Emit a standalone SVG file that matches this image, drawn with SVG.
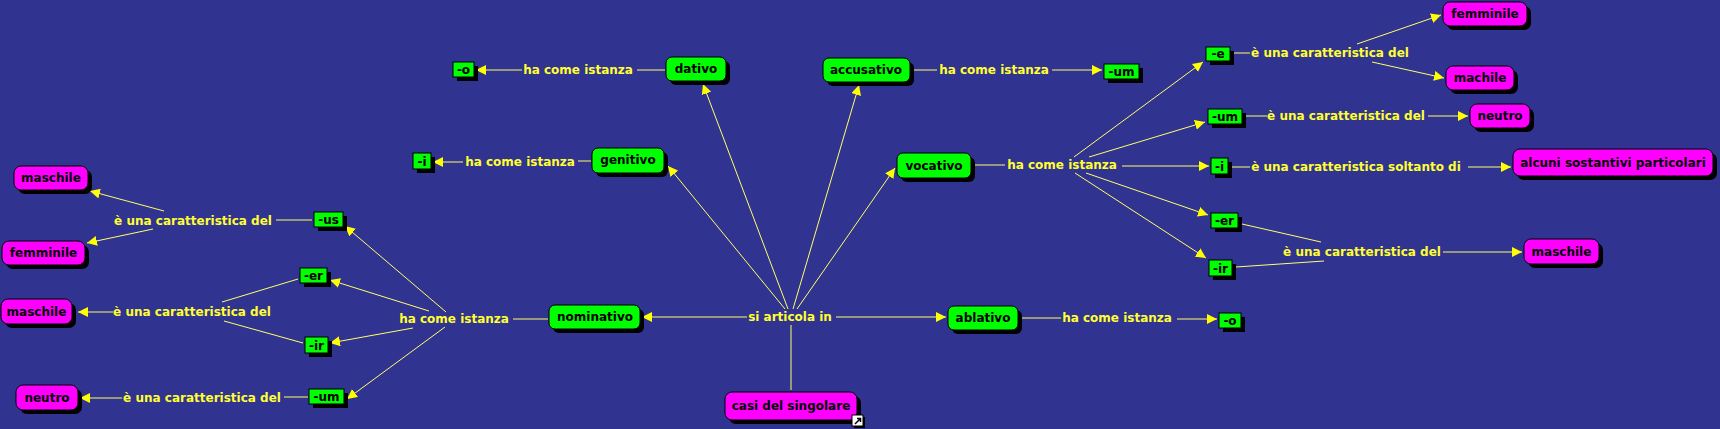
<svg xmlns="http://www.w3.org/2000/svg" width="1720" height="429" viewBox="0 0 1720 429">
<style>
.bg{fill:#313391}
.sh{fill:#000}
.g{fill:#00ff00;stroke:#000;stroke-width:1}
.m{fill:#ff00ff;stroke:#000;stroke-width:1}
.t{font-family:"DejaVu Sans",Verdana,sans-serif;font-weight:bold;font-size:12px;fill:#000;text-anchor:middle}
.lb{font-family:"DejaVu Sans",Verdana,sans-serif;font-weight:bold;font-size:12px;fill:#ffff33;text-anchor:middle}
.c line{stroke:#ffff66;stroke-width:1}
.a{marker-end:url(#ah)}
</style>
<defs>
<marker id="ah" markerUnits="userSpaceOnUse" markerWidth="11" markerHeight="10" refX="10" refY="5" orient="auto">
<path d="M0,0 L10,5 L0,10 z" fill="#ffff00"/>
</marker>
</defs>
<rect class="bg" x="0" y="0" width="1720" height="429"/>

<g id="connectors" class="c">
<!-- si articola in -->
<line x1="791" y1="390" x2="791" y2="325"/>
<line class="a" x1="747" y1="317" x2="642" y2="317"/>
<line class="a" x1="836" y1="317" x2="946" y2="317"/>
<line class="a" x1="785" y1="309" x2="668" y2="166"/>
<line class="a" x1="788" y1="309" x2="703" y2="84"/>
<line class="a" x1="793" y1="309" x2="859" y2="85"/>
<line class="a" x1="797" y1="309" x2="895" y2="168"/>
<!-- nominativo -->
<line x1="548" y1="319" x2="513" y2="319"/>
<line class="a" x1="446" y1="312" x2="345" y2="226"/>
<line class="a" x1="429" y1="311" x2="330" y2="280"/>
<line class="a" x1="413" y1="328" x2="330" y2="343"/>
<line class="a" x1="445" y1="327" x2="347" y2="399"/>
<!-- -us -->
<line x1="312" y1="220" x2="276" y2="220"/>
<line class="a" x1="164" y1="211" x2="90" y2="191"/>
<line class="a" x1="153" y1="229" x2="87" y2="243"/>
<!-- -er/-ir left -->
<line x1="298" y1="279" x2="222" y2="302"/>
<line x1="303" y1="343" x2="224" y2="321"/>
<line class="a" x1="113" y1="312" x2="78" y2="312"/>
<!-- -um left -->
<line x1="308" y1="397" x2="284" y2="397"/>
<line class="a" x1="122" y1="398" x2="80" y2="398"/>
<!-- genitivo -->
<line x1="591" y1="161" x2="578" y2="161"/>
<line class="a" x1="463" y1="162" x2="433" y2="162"/>
<!-- dativo -->
<line x1="665" y1="70" x2="637" y2="70"/>
<line class="a" x1="522" y1="70" x2="476" y2="70"/>
<!-- accusativo -->
<line x1="911" y1="70" x2="937" y2="70"/>
<line class="a" x1="1052" y1="70" x2="1102" y2="70"/>
<!-- vocativo -->
<line x1="972" y1="165" x2="1005" y2="165"/>
<line class="a" x1="1074" y1="157" x2="1203" y2="62"/>
<line class="a" x1="1089" y1="157" x2="1205" y2="122"/>
<line class="a" x1="1122" y1="166" x2="1209" y2="166"/>
<line class="a" x1="1086" y1="173" x2="1208" y2="215"/>
<line class="a" x1="1075" y1="173" x2="1206" y2="258"/>
<!-- -e -->
<line x1="1232" y1="53" x2="1250" y2="53"/>
<line class="a" x1="1357" y1="44" x2="1441" y2="15"/>
<line class="a" x1="1372" y1="62" x2="1444" y2="78"/>
<!-- -um right -->
<line x1="1246" y1="116" x2="1267" y2="116"/>
<line class="a" x1="1428" y1="116" x2="1468" y2="116"/>
<!-- -i right -->
<line x1="1232" y1="167" x2="1250" y2="167"/>
<line class="a" x1="1468" y1="167" x2="1511" y2="167"/>
<!-- -er/-ir right -->
<line x1="1242" y1="224" x2="1321" y2="242"/>
<line x1="1236" y1="267" x2="1324" y2="261"/>
<line class="a" x1="1443" y1="252" x2="1522" y2="252"/>
<!-- ablativo -->
<line x1="1020" y1="318" x2="1061" y2="318"/>
<line class="a" x1="1177" y1="319" x2="1217" y2="319"/>
</g>

<g id="labels">
<text class="lb" x="790" y="321">si articola in</text>
<text class="lb" x="454" y="323">ha come istanza</text>
<text class="lb" x="193" y="225">è una caratteristica del</text>
<text class="lb" x="192" y="316">è una caratteristica del</text>
<text class="lb" x="202" y="402">è una caratteristica del</text>
<text class="lb" x="520" y="166">ha come istanza</text>
<text class="lb" x="578" y="74">ha come istanza</text>
<text class="lb" x="994" y="74">ha come istanza</text>
<text class="lb" x="1062" y="169">ha come istanza</text>
<text class="lb" x="1330" y="57">è una caratteristica del</text>
<text class="lb" x="1346" y="120">è una caratteristica del</text>
<text class="lb" x="1356" y="171">è una caratteristica soltanto di</text>
<text class="lb" x="1362" y="256">è una caratteristica del</text>
<text class="lb" x="1117" y="322">ha come istanza</text>
</g>

<g id="casi-del-singolare">
<rect class="sh" x="729" y="396" width="132" height="28" rx="7"/>
<rect class="m" x="725" y="392" width="132" height="28" rx="7"/>
<text class="t" x="791" y="410">casi del singolare</text>
<rect x="854" y="417" width="11" height="11" fill="#000"/>
<rect x="852" y="415" width="11" height="11" fill="#fff" stroke="#000" stroke-width="1"/>
<path d="M855,424 L860,419 M857,418.5 L860.5,418.5 L860.5,422" stroke="#000" stroke-width="1.5" fill="none"/>
</g>

<g id="nominativo">
<rect class="sh" x="553" y="309" width="91" height="24" rx="6"/>
<rect class="g" x="549" y="305" width="91" height="24" rx="6"/>
<text class="t" x="595" y="321">nominativo</text>
</g>
<g id="genitivo">
<rect class="sh" x="596" y="152" width="72" height="25" rx="6"/>
<rect class="g" x="592" y="148" width="72" height="25" rx="6"/>
<text class="t" x="628" y="164">genitivo</text>
</g>
<g id="dativo">
<rect class="sh" x="670" y="61" width="60" height="24" rx="6"/>
<rect class="g" x="666" y="57" width="60" height="24" rx="6"/>
<text class="t" x="696" y="73">dativo</text>
</g>
<g id="accusativo">
<rect class="sh" x="827" y="62" width="87" height="24" rx="6"/>
<rect class="g" x="823" y="58" width="87" height="24" rx="6"/>
<text class="t" x="866" y="74">accusativo</text>
</g>
<g id="vocativo">
<rect class="sh" x="901" y="157" width="74" height="25" rx="6"/>
<rect class="g" x="897" y="153" width="74" height="25" rx="6"/>
<text class="t" x="934" y="170">vocativo</text>
</g>
<g id="ablativo">
<rect class="sh" x="952" y="310" width="70" height="24" rx="6"/>
<rect class="g" x="948" y="306" width="70" height="24" rx="6"/>
<text class="t" x="983" y="322">ablativo</text>
</g>

<g id="suf-o-dat">
<rect class="sh" x="457" y="66" width="21" height="15"/>
<rect class="g" x="453" y="62" width="21" height="15"/>
<text class="t" x="463.5" y="74">-o</text>
</g>
<g id="suf-i-gen">
<rect class="sh" x="417" y="157" width="18" height="16"/>
<rect class="g" x="413" y="153" width="18" height="16"/>
<text class="t" x="422" y="165.5">-i</text>
</g>
<g id="suf-us">
<rect class="sh" x="318" y="216" width="29" height="15"/>
<rect class="g" x="314" y="212" width="29" height="15"/>
<text class="t" x="328.5" y="223.5">-us</text>
</g>
<g id="suf-er-nom">
<rect class="sh" x="304" y="272" width="27" height="15"/>
<rect class="g" x="300" y="268" width="27" height="15"/>
<text class="t" x="313.5" y="279.5">-er</text>
</g>
<g id="suf-ir-nom">
<rect class="sh" x="309" y="341" width="23" height="16"/>
<rect class="g" x="305" y="337" width="23" height="16"/>
<text class="t" x="316.5" y="349.5">-ir</text>
</g>
<g id="suf-um-nom">
<rect class="sh" x="313" y="393" width="35" height="15"/>
<rect class="g" x="309" y="389" width="35" height="15"/>
<text class="t" x="326.5" y="400.5">-um</text>
</g>
<g id="suf-um-acc">
<rect class="sh" x="1108" y="68" width="35" height="15"/>
<rect class="g" x="1104" y="64" width="35" height="15"/>
<text class="t" x="1121.5" y="75.5">-um</text>
</g>
<g id="suf-e">
<rect class="sh" x="1210" y="51" width="24" height="14"/>
<rect class="g" x="1206" y="47" width="24" height="14"/>
<text class="t" x="1218" y="58">-e</text>
</g>
<g id="suf-um-voc">
<rect class="sh" x="1212" y="113" width="34" height="15"/>
<rect class="g" x="1208" y="109" width="34" height="15"/>
<text class="t" x="1225" y="120.5">-um</text>
</g>
<g id="suf-i-voc">
<rect class="sh" x="1215" y="162" width="17" height="16"/>
<rect class="g" x="1211" y="158" width="17" height="16"/>
<text class="t" x="1219.5" y="170.5">-i</text>
</g>
<g id="suf-er-voc">
<rect class="sh" x="1215" y="217" width="27" height="15"/>
<rect class="g" x="1211" y="213" width="27" height="15"/>
<text class="t" x="1224.5" y="224.5">-er</text>
</g>
<g id="suf-ir-voc">
<rect class="sh" x="1213" y="264" width="23" height="16"/>
<rect class="g" x="1209" y="260" width="23" height="16"/>
<text class="t" x="1220.5" y="272.5">-ir</text>
</g>
<g id="suf-o-abl">
<rect class="sh" x="1223" y="317" width="22" height="15"/>
<rect class="g" x="1219" y="313" width="22" height="15"/>
<text class="t" x="1230" y="324.5">-o</text>
</g>

<g id="maschile-1">
<rect class="sh" x="18" y="170" width="74" height="24" rx="7"/>
<rect class="m" x="14" y="166" width="74" height="24" rx="7"/>
<text class="t" x="51" y="182">maschile</text>
</g>
<g id="femminile-1">
<rect class="sh" x="6" y="245" width="83" height="24" rx="7"/>
<rect class="m" x="2" y="241" width="83" height="24" rx="7"/>
<text class="t" x="43.5" y="257">femminile</text>
</g>
<g id="maschile-2">
<rect class="sh" x="5" y="303" width="71" height="25" rx="7"/>
<rect class="m" x="1" y="299" width="71" height="25" rx="7"/>
<text class="t" x="36.5" y="316">maschile</text>
</g>
<g id="neutro-1">
<rect class="sh" x="20" y="389" width="62" height="25" rx="7"/>
<rect class="m" x="16" y="385" width="62" height="25" rx="7"/>
<text class="t" x="47" y="402">neutro</text>
</g>
<g id="femminile-2">
<rect class="sh" x="1447" y="6" width="84" height="24" rx="7"/>
<rect class="m" x="1443" y="2" width="84" height="24" rx="7"/>
<text class="t" x="1485" y="18">femminile</text>
</g>
<g id="machile">
<rect class="sh" x="1450" y="70" width="68" height="24" rx="7"/>
<rect class="m" x="1446" y="66" width="68" height="24" rx="7"/>
<text class="t" x="1480" y="82">machile</text>
</g>
<g id="neutro-2">
<rect class="sh" x="1474" y="108" width="60" height="24" rx="7"/>
<rect class="m" x="1470" y="104" width="60" height="24" rx="7"/>
<text class="t" x="1500" y="120">neutro</text>
</g>
<g id="alcuni-sostantivi">
<rect class="sh" x="1517" y="153" width="200" height="27" rx="7"/>
<rect class="m" x="1513" y="149" width="200" height="27" rx="7"/>
<text class="t" x="1613" y="166.5">alcuni sostantivi particolari</text>
</g>
<g id="maschile-3">
<rect class="sh" x="1528" y="243" width="75" height="25" rx="7"/>
<rect class="m" x="1524" y="239" width="75" height="25" rx="7"/>
<text class="t" x="1561.5" y="256">maschile</text>
</g>
</svg>
